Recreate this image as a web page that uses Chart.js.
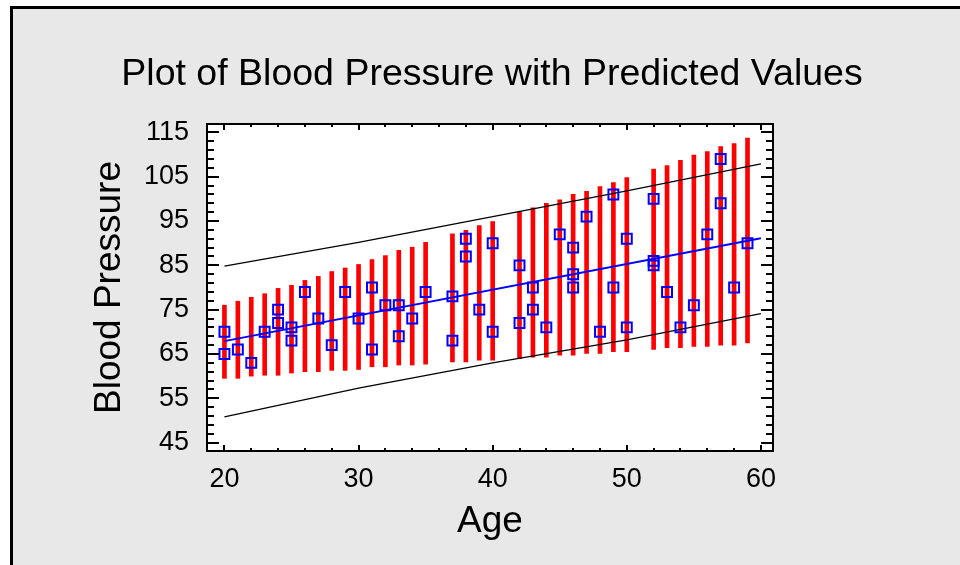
<!DOCTYPE html>
<html>
<head>
<meta charset="utf-8">
<title>Plot of Blood Pressure with Predicted Values</title>
<script src="https://cdn.jsdelivr.net/npm/chart.js@4.4.1/dist/chart.umd.min.js"></script>
<style>
  html, body { margin: 0; padding: 0; background: #fff; }
  #wrap { width: 960px; height: 565px; }
</style>
</head>
<body>
<div id="wrap"><canvas id="bpChart" width="960" height="565"></canvas></div>
<script>
// observed values
const obsAge = [20, 20, 21, 22, 23, 24, 24, 25, 25, 26, 27, 28, 29, 30, 31, 31, 32, 33, 33, 34,
  35, 37, 37, 38, 38, 39, 40, 40, 42, 42, 43, 43, 44, 45, 46, 46, 46, 47, 48, 49,
  49, 50, 50, 52, 52, 52, 53, 54, 55, 56, 57, 57, 58, 59];
const obsBP = [70, 65, 66, 63, 70, 75, 72, 71, 68, 79, 73, 67, 79, 73, 80, 66, 76, 76, 69, 73,
  79, 78, 68, 91, 87, 75, 90, 70, 85, 72, 80, 75, 71, 92, 89, 83, 80, 96, 70, 101,
  80, 91, 71, 100, 86, 85, 79, 71, 76, 92, 109, 99, 80, 90];

// red interval bars, one per distinct age
const barAge = [20, 21, 22, 23, 24, 25, 26, 27, 28, 29, 30, 31, 32, 33, 34, 35, 37, 38, 39, 40,
  42, 43, 44, 45, 46, 47, 48, 49, 50, 52, 53, 54, 55, 56, 57, 58, 59];
const barLow = [59.5, 59.5, 60.0, 60.2, 60.2, 60.7, 61.0, 61.0, 61.3, 61.3, 61.5, 62.1, 62.1, 62.5, 62.5, 62.7, 63.2, 63.2, 63.6, 63.6,
  64.0, 64.3, 64.3, 64.7, 64.7, 65.1, 65.1, 65.5, 65.5, 66.0, 66.4, 66.4, 66.7, 66.7, 67.0, 67.0, 67.5];
const barHigh = [76.0, 76.9, 77.8, 78.6, 79.8, 80.5, 81.6, 82.5, 83.6, 84.4, 85.2, 86.3, 87.2, 88.4, 89.1, 90.2, 92.1, 92.9, 94.0, 94.9,
  97.1, 98.0, 99.0, 99.8, 101.0, 101.7, 102.8, 103.7, 104.8, 106.7, 107.5, 108.7, 109.9, 110.7, 111.8, 112.5, 113.7];

// fitted line and outer limits
const fitAge = [20, 60];
const fitBP = [67.9, 91.1];
const limAge = [20, 30, 40, 50, 60];
const limUpper = [84.8, 90.2, 96.0, 101.8, 107.9];
const limLower = [50.8, 57.3, 63.0, 68.2, 74.1];

const xTicks = [20, 30, 40, 50, 60];
const yTicks = [45, 55, 65, 75, 85, 95, 105, 115];

const FONT = "'Liberation Sans', Arial, sans-serif";

const pts = (xs, ys) => xs.map((x, i) => ({ x: x, y: ys[i] }));

const framePlugin = {
  id: 'frame',
  beforeDraw(chart) {
    const { ctx, chartArea: a, width, height } = chart;
    ctx.save();
    ctx.fillStyle = '#ffffff';
    ctx.fillRect(0, 0, width, height);
    ctx.fillStyle = '#e8e8e8';
    ctx.fillRect(11, 7, width - 11, height - 7);
    ctx.strokeStyle = '#000';
    ctx.lineWidth = 3;
    ctx.beginPath();
    ctx.moveTo(11.5, height);
    ctx.lineTo(11.5, 7.5);
    ctx.lineTo(width, 7.5);
    ctx.stroke();
    ctx.fillStyle = '#ffffff';
    ctx.fillRect(a.left, a.top, a.right - a.left, a.bottom - a.top);
    ctx.restore();
  },
  afterDatasetsDraw(chart) {
    const { ctx, chartArea: a } = chart;
    const xs = chart.scales.x, ys = chart.scales.y;
    ctx.save();
    ctx.strokeStyle = '#000';
    ctx.lineWidth = 2;
    ctx.beginPath();
    for (let v = 20; v <= 60; v += 2) {
      const px = Math.round(xs.getPixelForValue(v));
      const len = xTicks.includes(v) ? 6 : 3;
      ctx.moveTo(px, a.bottom); ctx.lineTo(px, a.bottom - len);
      ctx.moveTo(px, a.top); ctx.lineTo(px, a.top + len);
    }
    for (let v = 45; v <= 115; v += 2) {
      const py = Math.round(ys.getPixelForValue(v));
      const len = yTicks.includes(v) ? 12 : 7;
      ctx.moveTo(a.left, py); ctx.lineTo(a.left + len, py);
      ctx.moveTo(a.right, py); ctx.lineTo(a.right - len, py);
    }
    ctx.stroke();
    ctx.strokeRect(a.left, a.top, a.right - a.left, a.bottom - a.top);
    ctx.restore();
  }
};

new Chart(document.getElementById('bpChart'), {
  type: 'scatter',
  data: {
    datasets: [
      {
        type: 'scatter',
        data: pts(obsAge, obsBP),
        pointStyle: 'rect',
        pointRadius: 7,
        borderColor: '#0000ff',
        backgroundColor: 'rgba(0,0,0,0)',
        borderWidth: 2,
        order: 0
      },
      {
        type: 'line',
        data: pts(fitAge, fitBP),
        borderColor: '#0000ff',
        borderWidth: 2,
        pointRadius: 0,
        fill: false,
        order: 1
      },
      {
        type: 'line',
        data: pts(limAge, limUpper),
        borderColor: '#000000',
        borderWidth: 1.3,
        pointRadius: 0,
        fill: false,
        order: 2
      },
      {
        type: 'line',
        data: pts(limAge, limLower),
        borderColor: '#000000',
        borderWidth: 1.3,
        pointRadius: 0,
        fill: false,
        order: 2
      },
      {
        type: 'bar',
        data: barAge.map((x, i) => ({ x: x, y: [barLow[i], barHigh[i]] })),
        backgroundColor: '#ff0000',
        borderWidth: 0,
        barThickness: 4,
        order: 3
      }
    ]
  },
  options: {
    responsive: false,
    animation: false,
    devicePixelRatio: 1,
    events: [],
    layout: { padding: { left: 24, right: 0, top: 0, bottom: 0 } },
    plugins: {
      legend: { display: false },
      tooltip: { enabled: false },
      title: {
        display: true,
        text: 'Plot of Blood Pressure with Predicted Values',
        color: '#000',
        font: { family: FONT, size: 37.5, weight: 'normal' },
        padding: { top: 52, bottom: 27 }
      }
    },
    scales: {
      x: {
        type: 'linear',
        min: 18.7,
        max: 60.9,
        offset: false,
        grid: { display: false, offset: false },
        border: { display: false },
        afterBuildTicks: s => { s.ticks = xTicks.map(v => ({ value: v })); },
        afterFit: s => { s.height = 114; },
        ticks: { color: '#000', font: { family: FONT, size: 27 }, padding: 4, maxRotation: 0 },
        title: {
          display: true, text: 'Age', color: '#000',
          font: { family: FONT, size: 37 }, padding: { top: 0, bottom: 21 }
        }
      },
      y: {
        position: 'left',
        min: 43.1,
        max: 116.9,
        grid: { display: false },
        border: { display: false },
        afterBuildTicks: s => { s.ticks = yTicks.map(v => ({ value: v })); },
        afterFit: s => { s.width = 183; },
        ticks: { color: '#000', font: { family: FONT, size: 27 }, padding: 10 },
        title: {
          display: true, text: 'Blood Pressure', color: '#000',
          font: { family: FONT, size: 37 }, padding: { top: 64, bottom: 0 }
        }
      },
      // empty right-hand margin so the plot ends where the reference does
      yRight: {
        position: 'right',
        display: true,
        grid: { display: false },
        border: { display: false },
        ticks: { display: false },
        afterFit: s => { s.width = 187; }
      }
    }
  },
  plugins: [framePlugin]
});
</script>
</body>
</html>
